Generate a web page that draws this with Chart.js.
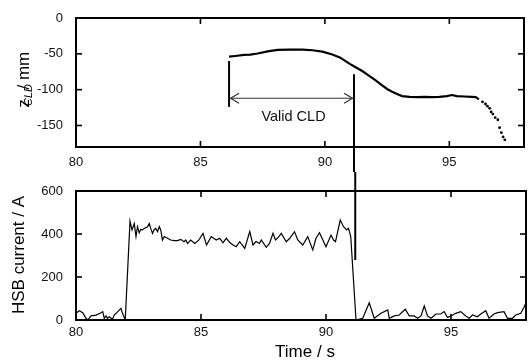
<!DOCTYPE html>
<html><head><meta charset="utf-8">
<script src="https://cdn.jsdelivr.net/npm/chart.js@4.4.0/dist/chart.umd.min.js"></script>
<style>
html,body{margin:0;padding:0;background:#fff;}
#wrap{position:relative;width:528px;height:361px;overflow:hidden;background:#fff;}
canvas{position:absolute;left:0;}
#top{top:0;} #bot{top:172px;}
</style></head><body>
<div id="wrap"><canvas id="top" width="528" height="172"></canvas><canvas id="bot" width="528" height="189"></canvas></div>
<script>
// ---------- data ----------
const xTicks = [80, 85, 90, 95];
const zTicks = [0, -50, -100, -150];
const currentTicks = [0, 200, 400, 600];

const timeCLD = [86.15, 86.4, 86.75, 87.0, 87.3, 87.7, 88.1, 88.6, 89.1, 89.5, 89.9, 90.3, 90.6, 90.8, 91.0, 91.2, 91.5, 91.75, 92.0, 92.3, 92.5, 92.7, 92.9, 93.1, 93.4, 93.7, 94.0, 94.3, 94.6, 94.9, 95.1, 95.3, 95.6, 95.9, 96.06, 96.19];
const zCLD    = [-54, -53, -51.5, -51, -49.5, -46.5, -44.5, -44, -44, -45, -47, -51, -55, -59.5, -64, -68, -74, -80, -86, -94, -99, -103, -106, -109, -110, -110.5, -110, -110.5, -110, -109, -107.5, -109, -109.5, -110, -110.5, -113.5];
const timeCLDTail = [96.33, 96.45, 96.53, 96.62, 96.68, 96.75, 96.84, 96.95, 97.02, 97.09, 97.16, 97.23];
const zCLDTail    = [-117, -120, -123, -126, -131, -134, -139, -142, -153, -160, -166, -170];

const timeHSB = [80.0, 80.13, 80.27, 80.4, 80.47, 80.6, 80.8, 81.0, 81.07, 81.13, 81.2, 81.26, 81.33, 81.46, 81.53, 81.66, 81.8, 81.86, 81.97,
  82.16, 82.24, 82.33, 82.4, 82.46, 82.53, 82.59, 82.66, 82.73, 82.86, 82.93, 82.99, 83.06, 83.13, 83.19, 83.26, 83.33, 83.39, 83.46, 83.53, 83.66, 83.79, 83.93, 84.06, 84.19, 84.32, 84.39, 84.46, 84.59,
  84.75, 84.9, 85.08, 85.22, 85.41, 85.61, 85.75, 85.88, 86.01, 86.15, 86.28, 86.41, 86.55, 86.75, 86.95, 87.08, 87.2, 87.34, 87.41, 87.61, 87.74, 87.88, 87.98, 88.1, 88.21, 88.41, 88.55, 88.74, 88.87,
  89.07, 89.27, 89.47, 89.6, 89.74, 90.0, 90.2, 90.3, 90.38, 90.57, 90.7, 90.83, 90.9, 90.99, 91.2,
  91.47, 91.73, 91.93, 92.2, 92.47, 92.53, 92.73, 92.93, 93.17, 93.33, 93.53, 93.66, 93.8, 93.93, 94.06, 94.2, 94.4, 94.59, 94.73, 94.86, 95.0, 95.19, 95.39, 95.59, 95.73, 95.86, 96.06, 96.19, 96.39, 96.52, 96.72, 96.86, 97.12, 97.26, 97.46, 97.59, 97.79, 97.92, 97.99];
const currentHSB = [31, 43, 34, 8, 0, 19, 23, 34, 39, 8, 19, 8, 15, 4, 23, 38, 54, 31, 0,
  460, 419, 449, 388, 434, 406, 421, 419, 426, 434, 449, 426, 403, 421, 426, 411, 434, 419, 372, 388, 380, 372, 369, 369, 375, 364, 372, 356, 372,
  356, 370, 403, 349, 388, 372, 380, 359, 380, 360, 349, 341, 364, 333, 411, 349, 365, 356, 372, 338, 356, 403, 372, 385, 403, 364, 380, 411, 372,
  349, 388, 326, 380, 406, 341, 395, 372, 364, 465, 434, 419, 426, 388, 0,
  8, 80, 8, 31, 47, 8, 19, 23, 50, 19, 19, 8, 19, 65, 19, 8, 28, 28, 39, 12, 19, 31, 39, 19, 8, 23, 15, 28, 43, 8, 28, 34, 39, 8, 8, 23, 31, 59, 78];

// annotation anchors (data units)
const validStart = 86.15, validEnd = 91.17;

// ---------- drawing helpers ----------
const FONT = '"Liberation Sans", Arial, sans-serif';
function pts(xs, ys) { return xs.map((x, i) => ({ x: x, y: ys[i] })); }
function seg(ctx, x1, y1, x2, y2) { ctx.beginPath(); ctx.moveTo(x1, y1); ctx.lineTo(x2, y2); ctx.stroke(); }

const framePlugin = {
  id: 'frame',
  afterDatasetsDraw(chart) {
    const { ctx, chartArea: a } = chart;
    const x = chart.scales.x, y = chart.scales.y;
    ctx.save();
    ctx.strokeStyle = '#000';
    ctx.lineWidth = 1.6;
    x.ticks.forEach(t => { const p = x.getPixelForValue(t.value); seg(ctx, p, a.bottom, p, a.bottom - 6); seg(ctx, p, a.top, p, a.top + 6); });
    y.ticks.forEach(t => { const p = y.getPixelForValue(t.value); seg(ctx, a.left, p, a.left + 6, p); seg(ctx, a.right, p, a.right - 6, p); });
    ctx.lineWidth = 2;
    ctx.strokeRect(a.left, a.top, a.right - a.left, a.bottom - a.top);
    ctx.restore();
  }
};

function rotText(ctx, parts, cx, baseX) {
  ctx.save();
  let total = 0;
  parts.forEach(p => { ctx.font = p.font; p.w = ctx.measureText(p.text).width; total += p.w; });
  ctx.translate(baseX, cx + total / 2);
  ctx.rotate(-Math.PI / 2);
  ctx.fillStyle = '#000';
  ctx.textBaseline = 'alphabetic';
  let pos = 0;
  parts.forEach(p => { ctx.font = p.font; ctx.fillText(p.text, pos, p.dy); pos += p.w; });
  ctx.restore();
}

const topAnno = {
  id: 'topAnno',
  afterDraw(chart) {
    const { ctx } = chart;
    const x = chart.scales.x, y = chart.scales.y;
    const xs = x.getPixelForValue(validStart), xe = x.getPixelForValue(validEnd);
    ctx.save();
    ctx.strokeStyle = '#000';
    ctx.lineWidth = 2;
    seg(ctx, xs, y.getPixelForValue(-60), xs, y.getPixelForValue(-124));
    seg(ctx, xe, y.getPixelForValue(-78.5), xe, chart.height + 2);
    const ya = y.getPixelForValue(-112);
    ctx.strokeStyle = '#333';
    ctx.lineWidth = 1.2;
    seg(ctx, xs + 1, ya, xe - 1, ya);
    ctx.beginPath(); ctx.moveTo(xs + 10, ya - 5); ctx.lineTo(xs + 1.5, ya); ctx.lineTo(xs + 10, ya + 5); ctx.stroke();
    ctx.beginPath(); ctx.moveTo(xe - 10, ya - 5); ctx.lineTo(xe - 1.5, ya); ctx.lineTo(xe - 10, ya + 5); ctx.stroke();
    ctx.fillStyle = '#111';
    ctx.font = '14.5px ' + FONT;
    ctx.textAlign = 'center'; ctx.textBaseline = 'middle';
    ctx.fillText('Valid CLD', x.getPixelForValue(88.74), y.getPixelForValue(-138));
    rotText(ctx, [
      { text: 'z', font: '17px ' + FONT, dy: 0 },
      { text: 'CLD', font: 'italic 11px ' + FONT, dy: 3 },
      { text: ' / mm', font: '17px ' + FONT, dy: 0 }
    ], 67, 29);
    ctx.restore();
  }
};

const botAnno = {
  id: 'botAnno',
  afterDraw(chart) {
    const { ctx } = chart;
    const x = chart.scales.x, y = chart.scales.y;
    const xe = x.getPixelForValue(validEnd);
    ctx.save();
    ctx.strokeStyle = '#000';
    ctx.lineWidth = 2;
    seg(ctx, xe, -2, xe, y.getPixelForValue(279));
    rotText(ctx, [{ text: 'HSB current / A', font: '17px ' + FONT, dy: 0 }], 255 - 172, 24);
    ctx.fillStyle = '#000';
    ctx.font = '17px ' + FONT;
    ctx.textAlign = 'center'; ctx.textBaseline = 'middle';
    ctx.fillText('Time / s', 305, 352.7 - 172);
    ctx.restore();
  }
};

function scales(yMin, yMax, yTicks, xPad, xHeight) {
  const tickFont = { family: FONT, size: 13 };
  return {
    x: {
      type: 'linear', min: 80, max: 98,
      grid: { display: false }, border: { display: false },
      afterBuildTicks: s => { s.ticks = xTicks.map(v => ({ value: v })); },
      afterFit: s => { s.height = xHeight; },
      ticks: { font: tickFont, color: '#111', padding: xPad, maxRotation: 0, autoSkip: false }
    },
    y: {
      type: 'linear', min: yMin, max: yMax,
      grid: { display: false }, border: { display: false },
      afterBuildTicks: s => { s.ticks = yTicks.map(v => ({ value: v })); },
      afterFit: s => { s.width = 76; },
      ticks: { font: tickFont, color: '#111', padding: 5, autoSkip: false }
    }
  };
}

const common = {
  responsive: false, animation: false, devicePixelRatio: 1,
  plugins: { legend: { display: false }, tooltip: { enabled: false } },
  events: []
};

new Chart(document.getElementById('top'), {
  type: 'scatter',
  data: {
    datasets: [
      { data: pts(timeCLD, zCLD), showLine: true, borderColor: '#000', borderWidth: 2.2, pointRadius: 0, tension: 0 },
      { data: pts(timeCLDTail, zCLDTail), showLine: false, backgroundColor: '#000', borderColor: '#000', pointRadius: 1.4, borderWidth: 0 }
    ]
  },
  options: Object.assign({}, common, {
    layout: { padding: { left: 0, right: 2, top: 18, bottom: 0 } },
    scales: scales(-180, 0, zTicks, 0, 25)
  }),
  plugins: [framePlugin, topAnno]
});

new Chart(document.getElementById('bot'), {
  type: 'scatter',
  data: {
    datasets: [
      { data: pts(timeHSB, currentHSB), showLine: true, borderColor: '#000', borderWidth: 1.2, pointRadius: 0, tension: 0 }
    ]
  },
  options: Object.assign({}, common, {
    layout: { padding: { left: 0, right: 2, top: 19, bottom: 0 } },
    scales: scales(0, 600, currentTicks, -3, 41)
  }),
  plugins: [framePlugin, botAnno]
});
</script>
</body></html>
